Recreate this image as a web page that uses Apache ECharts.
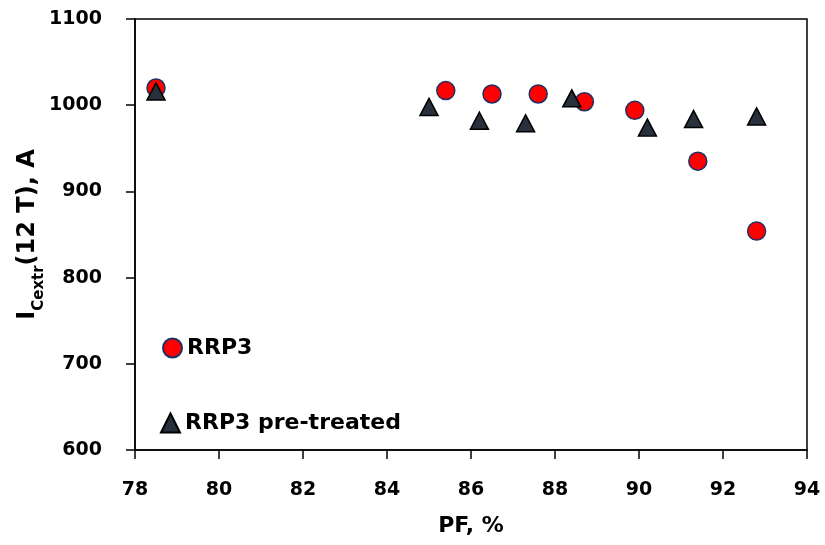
<!DOCTYPE html>
<html>
<head>
<meta charset="utf-8">
<script src="https://cdn.jsdelivr.net/npm/echarts@6/dist/echarts.min.js"></script>
<style>
  html, body { margin: 0; padding: 0; background: #ffffff; }
  #chart { width: 825px; height: 545px; }
</style>
</head>
<body>
<div id="chart"></div>
<script>
// Packing fraction (%) and extracted critical current at 12 T (A)
const pfRRP3 = [78.5, 85.4, 86.5, 87.6, 88.7, 89.9, 91.4, 92.8];
const icRRP3 = [1020, 1017, 1013, 1013, 1004, 994, 935, 854];

const pfPre = [78.5, 85.0, 86.2, 87.3, 88.4, 90.2, 91.3, 92.8];
const icPre = [1016, 998, 982, 979, 1008, 974, 984, 987];

const seriesNames = ['RRP3', 'RRP3 pre-treated'];

// Axis ranges
const xMin = 78, xMax = 94, xStep = 2;
const yMin = 600, yMax = 1100, yStep = 100;

const FONT = 'DejaVu Sans';

const pairs = (xs, ys) => xs.map((x, i) => [x, ys[i]]);

const chart = echarts.init(document.getElementById('chart'), null, { renderer: 'canvas' });

const legendText = { fontFamily: FONT, fontWeight: 'bold', fontSize: 22, color: '#000000' };

chart.setOption({
  animation: false,
  backgroundColor: '#ffffff',
  grid: {
    left: 135, right: 18, top: 19, bottom: 95,
    containLabel: false,
    outerBoundsMode: 'none',
    show: true, borderColor: '#000000', borderWidth: 1.5, backgroundColor: 'transparent'
  },
  legend: [
    {
      data: [seriesNames[0]],
      left: 157, top: 332,
      itemWidth: 19, itemHeight: 19,
      textStyle: legendText
    },
    {
      data: [seriesNames[1]],
      left: 155, top: 407,
      itemWidth: 19, itemHeight: 19,
      textStyle: legendText
    }
  ],
  xAxis: {
    type: 'value',
    min: xMin, max: xMax, interval: xStep,
    name: 'PF, %',
    nameLocation: 'middle',
    nameGap: 65,
    nameMoveOverlap: false,
    nameTextStyle: { fontFamily: FONT, fontWeight: 'bold', fontSize: 22, color: '#000000' },
    axisLine: { show: true, lineStyle: { color: '#000000', width: 1.5 } },
    axisTick: { show: true, inside: false, length: 9, lineStyle: { color: '#000000', width: 1.5 } },
    axisLabel: { margin: 31, fontFamily: FONT, fontWeight: 'bold', fontSize: 19, color: '#000000' },
    splitLine: { show: false }
  },
  yAxis: {
    type: 'value',
    min: yMin, max: yMax, interval: yStep,
    name: '{m|I}{s|Cextr}{m|(12 T), A}',
    nameLocation: 'middle',
    nameRotate: 90,
    nameGap: 92,
    nameMoveOverlap: false,
    nameTextStyle: {
      fontFamily: FONT, fontWeight: 'bold', color: '#000000',
      rich: {
        m: { fontFamily: FONT, fontWeight: 'bold', fontSize: 24, color: '#000000', lineHeight: 30 },
        s: { fontFamily: FONT, fontWeight: 'bold', fontSize: 15, color: '#000000', lineHeight: 30, verticalAlign: 'bottom', padding: [0, 0, -4, 0] }
      }
    },
    axisLine: { show: true, lineStyle: { color: '#000000', width: 1.5 } },
    axisTick: { show: true, inside: false, length: 9, lineStyle: { color: '#000000', width: 1.5 } },
    axisLabel: {
      margin: 33, fontFamily: FONT, fontWeight: 'bold', fontSize: 19, color: '#000000',
      formatter: (v) => String(v)
    },
    splitLine: { show: false }
  },
  series: [
    {
      name: seriesNames[0],
      type: 'scatter',
      symbol: 'circle',
      symbolSize: 18,
      data: pairs(pfRRP3, icRRP3),
      itemStyle: { color: '#ff0000', borderColor: '#1f2f63', borderWidth: 1.5, opacity: 1 },
      z: 2
    },
    {
      name: seriesNames[1],
      type: 'scatter',
      symbol: 'triangle',
      symbolSize: [18, 17],
      data: pairs(pfPre, icPre),
      itemStyle: { color: '#27303b', borderColor: '#000000', borderWidth: 1.5, opacity: 1 },
      z: 3
    }
  ]
});
</script>
</body>
</html>
